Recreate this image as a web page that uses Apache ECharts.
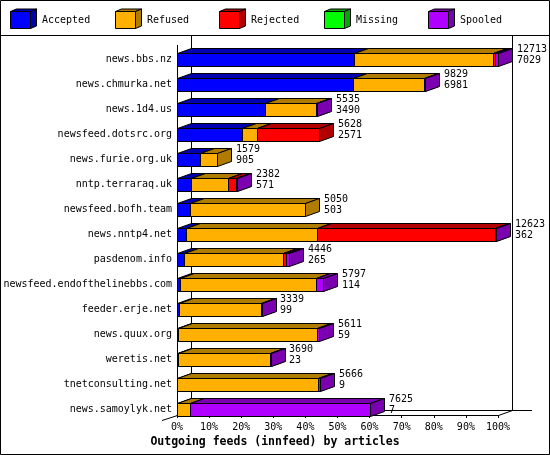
<!DOCTYPE html>
<html>
<head>
<meta charset="utf-8">
<script src="https://cdn.jsdelivr.net/npm/echarts@6/dist/echarts.min.js"></script>
<style>html,body{margin:0;padding:0;background:#fff;}#c{width:550px;height:455px;}</style>
</head>
<body>
<div id="c"></div>
<script>
// ---- data ----
var categories = ['news.bbs.nz','news.chmurka.net','news.1d4.us','newsfeed.dotsrc.org','news.furie.org.uk','nntp.terraraq.uk','newsfeed.bofh.team','news.nntp4.net','pasdenom.info','newsfeed.endofthelinebbs.com','feeder.erje.net','news.quux.org','weretis.net','tnetconsulting.net','news.samoylyk.net'];
var offered  = [12713, 9829, 5535, 5628, 1579, 2382, 5050, 12623, 4446, 5797, 3339, 5611, 3690, 5666, 7625];
var accepted = [7029, 6981, 3490, 2571, 905, 571, 503, 362, 265, 114, 99, 59, 23, 9, 7];
var refused  = [5505, 2820, 2030, 600, 674, 1440, 4547, 5200, 3945, 5400, 3230, 5480, 3660, 5580, 515];
var rejected = [67, 0, 0, 2457, 0, 330, 0, 7040, 105, 0, 0, 0, 0, 0, 0];
var missing  = [0, 0, 0, 0, 0, 0, 0, 0, 0, 0, 0, 0, 0, 0, 0];
var spooled  = [112, 28, 15, 0, 0, 41, 0, 21, 131, 283, 10, 72, 7, 77, 7103];
var seriesNames = ['Accepted','Refused','Rejected','Missing','Spooled'];
var xTicks = [0,10,20,30,40,50,60,70,80,90,100];

// ---- styles ----
var frontColors = ['#0000ff','#ffb000','#ff0000','#00ff00','#b000ff'];
var darkColors  = ['#0000b0','#b07c00','#b00000','#00a800','#7a00b0'];
var FONT = '"DejaVu Sans Mono", monospace';
var DX = 14, DY = 5;
var GL = 177, GT = 47, GW = 321, GH = 375;

var segs = [accepted, refused, rejected, missing, spooled];
var maxTotal = Math.max.apply(null, offered);
function pct(v){ return v / maxTotal * 100; }

function px(v){ return Math.round(v) + 0.5; }

function boxRenderer(idx){
  return function(params, api){
    var a = api.coord([api.value(0), api.value(2)]);
    var b = api.coord([api.value(1), api.value(2)]);
    var band = api.size([0, 1])[1];
    var h = band * 0.5;
    var top = px(a[1] - h / 2), bot = px(a[1] + h / 2);
    var l = px(a[0]), r = px(b[0]);
    if (r <= l) r = l + 1;
    var st = {stroke:'#000', lineWidth:1};
    return {type:'group', children:[
      {type:'polygon', shape:{points:[[l,top],[l+DX,top-DY],[r+DX,top-DY],[r,top]]},
        style:Object.assign({fill:darkColors[idx]}, st)},
      {type:'polygon', shape:{points:[[r,top],[r+DX,top-DY],[r+DX,bot-DY],[r,bot]]},
        style:Object.assign({fill:darkColors[idx]}, st)},
      {type:'rect', shape:{x:l, y:top, width:r-l, height:bot-top},
        style:Object.assign({fill:frontColors[idx]}, st)}
    ]};
  };
}

var series = [];
segs.forEach(function(arr, si){
  var data = [];
  for (var i = 0; i < categories.length; i++) {
    var start = 0;
    for (var k = 0; k < si; k++) start += segs[k][i];
    if (arr[i] > 0) data.push([pct(start), pct(start + arr[i]), i]);
  }
  series.push({
    type:'custom', name:seriesNames[si], renderItem:boxRenderer(si),
    encode:{x:[0,1], y:2}, data:data, silent:true
  });
});

var labelData = categories.map(function(c, i){ return [pct(offered[i]), i, offered[i], accepted[i]]; });
series.push({
  type:'custom', name:'labels', silent:true,
  encode:{x:0, y:1}, data:labelData,
  renderItem:function(params, api){
    var p = api.coord([api.value(0), api.value(1)]);
    var band = api.size([0, 1])[1];
    return {type:'text', x:Math.round(p[0]) + DX + 5, y:p[1] - band*0.25 - 8.8,
      style:{text:api.value(2) + '\n' + api.value(3), fill:'#000', font:'10px ' + FONT,
        lineHeight:10.5, textAlign:'left', textVerticalAlign:'top'}};
  }
});

// frame and legend graphics
var FB = GT + GH - 7; // front floor y (axis line)
var GR = GL + GW;     // 100% position
var graphics = [
  {type:'rect', shape:{x:0.5, y:0.5, width:549, height:454}, style:{fill:'none', stroke:'#000', lineWidth:1}},
  {type:'line', shape:{x1:0, y1:35.5, x2:550, y2:35.5}, style:{stroke:'#000', lineWidth:1}},
  {type:'line', shape:{x1:GL+DX+0.5, y1:36, x2:GL+DX+0.5, y2:FB-DY+0.5}, style:{stroke:'#000', lineWidth:1}},
  {type:'line', shape:{x1:GR+DX+0.5, y1:36, x2:GR+DX+0.5, y2:FB-DY+0.5}, style:{stroke:'#000', lineWidth:1}},
  {type:'line', shape:{x1:GL+DX, y1:FB-DY+0.5, x2:532, y2:FB-DY+0.5}, style:{stroke:'#000', lineWidth:1}},
  {type:'line', shape:{x1:GR+0.5, y1:FB+0.5, x2:GR+DX+0.5, y2:FB-DY+0.5}, style:{stroke:'#000', lineWidth:1}},
  {type:'line', shape:{x1:GL+0.5, y1:45, x2:GL+0.5, y2:FB+0.5}, style:{stroke:'#000', lineWidth:1}},
  {type:'line', shape:{x1:GL-15, y1:FB+DY+0.5, x2:GL+0.5, y2:FB+0.5}, style:{stroke:'#000', lineWidth:1}},
  {type:'text', x:275, y:442, style:{text:'Outgoing feeds (innfeed) by articles', fill:'#000',
    font:'bold 11.5px ' + FONT, textAlign:'center', textVerticalAlign:'middle'}}
];
seriesNames.forEach(function(n, i){
  var x = 10 + Math.round(i * 104.5), y = 11;
  graphics.push({type:'polygon', shape:{points:[[x+0.5,y+0.5],[x+6.5,y-2],[x+26.5,y-2],[x+20.5,y+0.5]]},
    style:{fill:darkColors[i], stroke:'#000', lineWidth:1}});
  graphics.push({type:'polygon', shape:{points:[[x+20.5,y+0.5],[x+26.5,y-2],[x+26.5,y+15],[x+20.5,y+17.5]]},
    style:{fill:darkColors[i], stroke:'#000', lineWidth:1}});
  graphics.push({type:'rect', shape:{x:x+0.5, y:y+0.5, width:20, height:17},
    style:{fill:frontColors[i], stroke:'#000', lineWidth:1}});
  graphics.push({type:'text', x:x+32, y:20, style:{text:n, fill:'#000', font:'10px ' + FONT,
    textAlign:'left', textVerticalAlign:'middle'}});
});

var chart = echarts.init(document.getElementById('c'), null, {renderer:'canvas'});
chart.setOption({
  backgroundColor:'#fff',
  animation:false,
  grid:{left:GL, top:GT, width:GW, height:GH, containLabel:false},
  xAxis:{type:'value', min:0, max:100, interval:10, offset:-7,
    axisLine:{show:true, lineStyle:{color:'#000', width:1}},
    axisTick:{show:true, length:3, lineStyle:{color:'#000'}},
    axisLabel:{formatter:function(v){ return xTicks.indexOf(v) >= 0 ? v + '%' : ''; }, margin:7, color:'#000', fontSize:10, fontFamily:FONT},
    splitLine:{show:false}},
  yAxis:{type:'category', data:categories, inverse:true,
    axisLine:{show:false}, axisTick:{show:false},
    axisLabel:{margin:5, color:'#000', fontSize:10, fontFamily:FONT},
    splitLine:{show:false}},
  graphic:graphics,
  series:series
});
</script>
</body>
</html>
